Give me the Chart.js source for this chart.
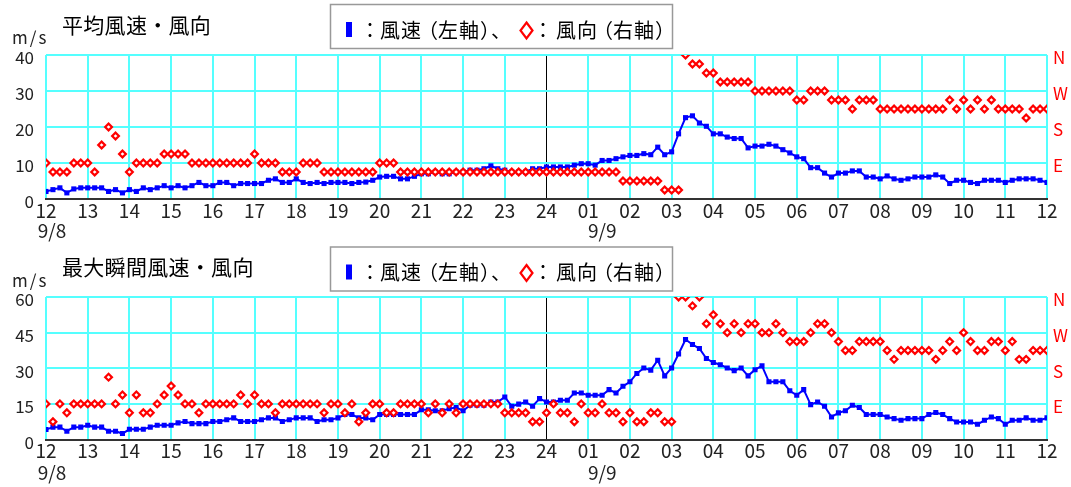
<!DOCTYPE html>
<html><head><meta charset="utf-8">
<script src="https://cdn.jsdelivr.net/npm/chart.js@4.4.0/dist/chart.umd.min.js"></script>
<style>
html,body{margin:0;padding:0;background:#fff;width:1071px;height:487px;overflow:hidden}
canvas{position:absolute;left:0}
</style></head><body>
<canvas id="c1" style="top:0px"></canvas>
<canvas id="c2" style="top:242px"></canvas>
<script>
// ---- tick labels ----
const hourLabels = ['12','13','14','15','16','17','18','19','20','21','22','23','24',
                    '01','02','03','04','05','06','07','08','09','10','11','12'];
const dateLabels = [{tick: 0, text: '9/8'}, {tick: 13, text: '9/9'}];
const dirTickLabels = ['', 'E', 'S', 'W', 'N'];
const compass = ['N','NNE','NE','ENE','E','ESE','SE','SSE','S','SSW','SW','WSW','W','WNW','NW','NNW'];

// ---- 10-minute data, 9/8 12:00 -> 9/9 12:00 ----
const avgSpeed = [
 2.1, 2.6, 3.1, 1.7, 2.8, 3.1, 3.1, 3.1, 3.1, 2.1,
 2.6, 1.7, 2.6, 2.1, 3.1, 2.6, 3.1, 3.7, 3.1, 3.7,
 3.1, 3.7, 4.6, 3.7, 3.7, 4.6, 4.6, 3.7, 4.3, 4.3,
 4.3, 4.3, 5.2, 5.6, 4.6, 4.6, 5.6, 4.6, 4.3, 4.6,
 4.3, 4.6, 4.6, 4.6, 4.3, 4.6, 4.7, 5.2, 6.1, 6.3,
 6.3, 5.6, 5.6, 6.3, 7.0, 7.0, 7.5, 7.0, 7.0, 7.5,
 7.5, 8.0, 8.0, 8.4, 9.2, 8.4, 8.0, 7.5, 7.5, 7.5,
 8.4, 8.4, 8.9, 8.9, 8.9, 8.9, 9.4, 9.8, 9.8, 9.4,
 10.7, 10.7, 11.2, 11.7, 12.1, 12.1, 12.6, 12.3, 14.4, 12.3,
 13.1, 18.1, 22.6, 23.1, 21.1, 20.2, 18.1, 18.1, 17.2, 16.8,
 16.8, 14.2, 14.7, 14.7, 15.2, 14.7, 13.7, 12.8, 11.7, 11.2,
 8.7, 8.7, 7.2, 6.1, 7.2, 7.2, 7.8, 7.8, 6.1, 6.1,
 5.6, 6.4, 5.6, 5.2, 5.6, 6.1, 6.1, 6.1, 6.7, 6.1,
 4.3, 5.2, 5.2, 4.6, 4.3, 5.2, 5.2, 5.2, 4.6, 5.2,
 5.6, 5.6, 5.6, 5.2, 4.6];
const avgDir = [
 'E','ENE','ENE','ENE','E','E','E','ENE','SE','S',
 'SSE','ESE','ENE','E','E','E','E','ESE','ESE','ESE',
 'ESE','E','E','E','E','E','E','E','E','E',
 'ESE','E','E','E','ENE','ENE','ENE','E','E','E',
 'ENE','ENE','ENE','ENE','ENE','ENE','ENE','ENE','E','E',
 'E','ENE','ENE','ENE','ENE','ENE','ENE','ENE','ENE','ENE',
 'ENE','ENE','ENE','ENE','ENE','ENE','ENE','ENE','ENE','ENE',
 'ENE','ENE','ENE','ENE','ENE','ENE','ENE','ENE','ENE','ENE',
 'ENE','ENE','ENE','NE','NE','NE','NE','NE','NE','NNE',
 'NNE','NNE','N','NNW','NNW','NW','NW','WNW','WNW','WNW',
 'WNW','WNW','W','W','W','W','W','W','WSW','WSW',
 'W','W','W','WSW','WSW','WSW','SW','WSW','WSW','WSW',
 'SW','SW','SW','SW','SW','SW','SW','SW','SW','SW',
 'WSW','SW','WSW','SW','WSW','SW','WSW','SW','SW','SW',
 'SW','SSW','SW','SW','SW'];
const gustSpeed = [
 4.2, 5.2, 5.2, 3.5, 5.2, 5.2, 6.0, 5.2, 5.2, 3.5,
 3.5, 2.5, 4.3, 4.3, 4.3, 5.2, 6.0, 6.0, 6.0, 7.0,
 7.6, 6.7, 6.7, 6.7, 7.6, 7.6, 8.3, 9.1, 7.6, 7.6,
 7.6, 8.3, 9.1, 9.1, 7.6, 8.3, 9.1, 9.1, 9.1, 7.6,
 8.3, 8.3, 9.1, 10.5, 10.5, 9.1, 9.1, 8.3, 10.5, 10.5,
 10.5, 10.5, 10.5, 10.5, 12.5, 12.5, 12.1, 12.1, 13.0, 13.5,
 12.1, 14.4, 14.4, 14.4, 15.8, 15.8, 17.9, 14.0, 14.9, 15.8,
 14.0, 17.2, 15.8, 15.8, 16.5, 16.5, 19.6, 19.6, 18.6, 18.6,
 18.6, 21.0, 19.6, 22.4, 24.3, 27.8, 30.1, 29.2, 33.4, 26.8,
 30.1, 36.0, 42.1, 40.0, 38.3, 34.1, 32.4, 31.5, 30.1, 29.0,
 30.1, 26.8, 29.4, 31.0, 24.3, 24.3, 24.3, 20.5, 18.6, 21.0,
 14.7, 15.8, 14.0, 9.5, 11.2, 12.1, 14.4, 13.5, 10.5, 10.5,
 10.5, 9.5, 8.8, 8.1, 8.8, 8.8, 8.8, 10.5, 11.4, 10.5,
 8.8, 7.4, 7.4, 7.4, 6.4, 8.1, 9.5, 8.8, 6.4, 8.1,
 8.1, 9.1, 8.1, 8.1, 9.1];
const gustDir = [
 'E','NE','E','ENE','E','E','E','E','E','SSE',
 'E','ESE','ENE','ESE','ENE','ENE','E','ESE','SE','ESE',
 'E','E','ENE','E','E','E','E','E','ESE','E',
 'ESE','E','E','ENE','E','E','E','E','E','E',
 'ENE','E','E','ENE','E','NE','ENE','E','E','ENE',
 'ENE','E','E','E','E','ENE','E','ENE','E','ENE',
 'E','E','E','E','E','E','ENE','ENE','ENE','ENE',
 'NE','NE','ENE','E','ENE','ENE','NE','E','ENE','ENE',
 'E','ENE','ENE','NE','ENE','NE','NE','ENE','ENE','NE',
 'NE','N','N','NNW','N','WNW','NW','WNW','W','WNW',
 'W','WNW','WNW','W','W','WNW','W','WSW','WSW','WSW',
 'W','WNW','WNW','W','WSW','SW','SW','WSW','WSW','WSW',
 'WSW','SW','SSW','SW','SW','SW','SW','SW','SSW','SW',
 'WSW','SW','W','WSW','SW','SW','WSW','WSW','SW','WSW',
 'SSW','SSW','SW','SW','SW'];

// ---- rendering ----
const FONT = "'Noto Sans CJK JP', 'Noto Sans CJK SC', sans-serif";
const CYAN = '#55ffff';
Chart.defaults.font.family = FONT;

// legend text pieces (proportional placement like the original)
const legendPieces = [
  {t: '：', x: 360}, {t: '風速', x: 380}, {t: '（', x: 418}, {t: '左軸', x: 438},
  {t: '）', x: 480}, {t: '、', x: 491},
  {t: '：', x: 533}, {t: '風向', x: 556}, {t: '（', x: 593}, {t: '右軸', x: 613},
  {t: '）', x: 655}
];

function dirValue(name) { const k = compass.indexOf(name); return k === 0 ? 16 : k; }

function makePanel(id, cfg) {
  const cv = document.getElementById(id);
  cv.width = 1071; cv.height = cfg.h;
  cv.style.width = '1071px'; cv.style.height = cfg.h + 'px';
  const decor = {
    id: 'decor',
    afterDraw(chart) {
      const ctx = chart.ctx;
      const xs = chart.scales.x;
      const o = cfg.dy;
      ctx.save();
      // title
      ctx.fillStyle = '#000';
      ctx.textBaseline = 'middle';
      ctx.textAlign = 'left';
      ctx.font = '21px ' + FONT;
      ctx.letterSpacing = '0.3px';
      ctx.fillText(cfg.title, 62, 25 + o);
      // unit
      ctx.fillStyle = '#222';
      ctx.font = '17px ' + FONT;
      ctx.letterSpacing = '2px';
      ctx.fillText('m/s', 12, 38 + o);
      ctx.letterSpacing = '1px';
      // legend box
      ctx.strokeStyle = '#999';
      ctx.lineWidth = 1.5;
      ctx.strokeRect(330.5, 4.5 + o, 342, 44);
      ctx.fillStyle = '#0000ff';
      ctx.fillRect(346, 22 + o, 6, 15);
      ctx.fillStyle = '#000';
      ctx.font = '20px ' + FONT;
      legendPieces.forEach(p => ctx.fillText(p.t, p.x, 30 + o));
      const dx = 526.5;
      ctx.beginPath();
      ctx.moveTo(dx, 22.5 + o); ctx.lineTo(dx + 6, 30.5 + o);
      ctx.lineTo(dx, 38.5 + o); ctx.lineTo(dx - 6, 30.5 + o); ctx.closePath();
      ctx.strokeStyle = '#ff0000'; ctx.lineWidth = 2.2; ctx.stroke();
      ctx.letterSpacing = '0px';
      // date labels under hour ticks
      ctx.fillStyle = '#222';
      ctx.textAlign = 'center';
      ctx.font = '19px ' + FONT;
      dateLabels.forEach(d => {
        const px = xs.getPixelForValue(d.tick * 6);
        ctx.fillText(d.text, px + (d.tick === 0 ? 6 : 14), cfg.dateY);
      });
      ctx.restore();
    }
  };
  return new Chart(cv, {
    type: 'line',
    data: {
      datasets: [
        {
          label: '風向',
          data: cfg.dir.map((d, i) => ({x: i, y: dirValue(d)})),
          yAxisID: 'y2',
          showLine: false,
          pointStyle: 'rectRot',
          pointRadius: 3.4,
          pointBorderColor: '#ff0000',
          pointBackgroundColor: '#ffffff',
          pointBorderWidth: 2.2
        },
        {
          label: '風速',
          data: cfg.speed.map((v, i) => ({x: i, y: v})),
          yAxisID: 'y',
          borderColor: '#0000ff',
          borderWidth: 2,
          pointStyle: 'rect',
          pointRadius: 3.6,
          pointBackgroundColor: '#0000ff',
          pointBorderWidth: 0,
          tension: 0
        }
      ]
    },
    options: {
      responsive: false,
      animation: false,
      devicePixelRatio: 1,
      layout: {padding: {top: cfg.top, left: 0, right: 0, bottom: 0}},
      plugins: {legend: {display: false}, tooltip: {enabled: false}, title: {display: false}},
      scales: {
        x: {
          type: 'linear', min: 0, max: 144,
          afterFit(s) { s.height = cfg.h - cfg.bottom; },
          ticks: {
            stepSize: 6, autoSkip: false, maxRotation: 0, padding: 0,
            color: '#222', font: {size: 19, family: FONT},
            callback: v => hourLabels[v / 6]
          },
          grid: {
            drawTicks: false,
            color: c => (c.tick && c.tick.value === 72) ? '#000000' : CYAN,
            lineWidth: c => (c.tick && c.tick.value === 72) ? 1 : 2
          },
          border: {display: true, color: '#333', width: 2}
        },
        y: {
          position: 'left', min: 0, max: cfg.yMax,
          afterFit(s) { s.width = 46; },
          ticks: {
            stepSize: cfg.yStep, padding: 12, labelOffset: 3,
            color: '#222', font: {size: 17, family: FONT}
          },
          grid: {drawTicks: false, color: CYAN, lineWidth: 2},
          border: {display: false}
        },
        y2: {
          position: 'right', min: 0, max: 16,
          afterFit(s) { s.width = 24; },
          ticks: {
            stepSize: 4, padding: 6, labelOffset: 3,
            color: '#ff0000', font: {size: 17, family: FONT},
            callback: v => dirTickLabels[v / 4]
          },
          grid: {display: false, drawTicks: false},
          border: {display: false}
        }
      }
    },
    plugins: [decor]
  });
}

makePanel('c1', {title: '平均風速・風向', speed: avgSpeed, dir: avgDir,
  yMax: 40, yStep: 10, h: 243, top: 55, bottom: 199, dy: 0, dateY: 231});
makePanel('c2', {title: '最大瞬間風速・風向', speed: gustSpeed, dir: gustDir,
  yMax: 60, yStep: 15, h: 245, top: 55, bottom: 197.5, dy: 0.5, dateY: 230.5});
</script>
</body></html>
